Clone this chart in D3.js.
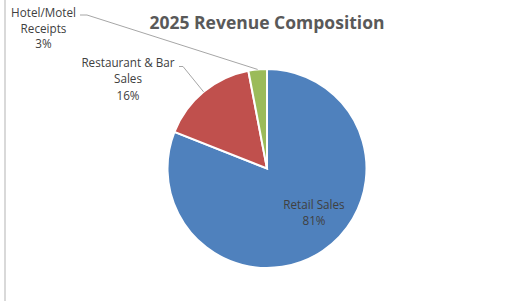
<!DOCTYPE html>
<html>
<head>
<meta charset="utf-8">
<script src="https://cdn.jsdelivr.net/npm/d3@7"></script>
<style>
  body { margin: 0; background: #fff; }
  text { font-family: "Open Sans", "Liberation Sans", sans-serif; }
</style>
</head>
<body>
<div id="container"></div>
<script>
// Chart data
var categories = ["Retail Sales", "Restaurant & Bar Sales", "Hotel/Motel Receipts"];
var shares = [81, 16, 3];
var labelLines = [["Retail Sales", "81%"], ["Restaurant & Bar", "Sales", "16%"], ["Hotel/Motel", "Receipts", "3%"]];
var colors = ["#4f81bd", "#c0504d", "#9bbb59"];

var width = 529,
    height = 301;

var cx = 267, cy = 168.5, radius = 99.5;

var svg = d3.select("#container")
            .append("svg")
              .attr("width", width)
              .attr("height", height);

// Light frame edge on the left
svg.append("line")
    .attr("x1", 5).attr("x2", 5)
    .attr("y1", 0).attr("y2", height)
    .attr("stroke", "#d9d9d9")
    .attr("stroke-width", 2);

// Title
svg.append("text")
    .attr("x", 267)
    .attr("y", 28.5)
    .attr("text-anchor", "middle")
    .style("font-size", "17.5px")
    .style("font-weight", "bold")
    .style("fill", "#595959")
    .text("2025 Revenue Composition");

var pie = d3.pie().sort(null).value(function(d) { return d; });
var arcs = pie(shares);

var arc = d3.arc().innerRadius(0).outerRadius(radius);

var g = svg.append("g")
           .attr("transform", "translate(" + cx + "," + cy + ")");

g.selectAll("path")
  .data(arcs)
  .enter()
  .append("path")
    .attr("d", arc)
    .attr("fill", function(d, i) { return colors[i]; })
    .attr("stroke", "white")
    .attr("stroke-width", 2);

// Label positions (relative to pie centre)
var labelPos = [[47, 40], [-139, -102], [-223.5, -151.5]];
var lineH = [16.5, 16.5, 15.5];

labelLines.forEach(function(lines, i) {
  var t = g.append("text")
           .attr("text-anchor", "middle")
           .style("font-size", "11.7px")
           .style("fill", "#404040");
  lines.forEach(function(s, j) {
    t.append("tspan")
      .attr("x", labelPos[i][0])
      .attr("y", labelPos[i][1] + j * lineH[i])
      .text(s);
  });
});

// Leader lines for outside labels
function edgePoint(d, r) {
  var a = (d.startAngle + d.endAngle) / 2;
  return [r * Math.sin(a), -r * Math.cos(a)];
}
var leaders = [
  { i: 1, from: [-88, -102], mid: [-84, -102] },
  { i: 2, from: [-187, -153.5], mid: [-180, -153.5] }
];
leaders.forEach(function(l) {
  var p = edgePoint(arcs[l.i], radius);
  g.append("polyline")
    .attr("points", [l.from, l.mid, p].map(function(q) { return q.join(","); }).join(" "))
    .attr("fill", "none")
    .attr("stroke", "#a6a6a6")
    .attr("stroke-width", 1);
});
</script>
</body>
</html>
